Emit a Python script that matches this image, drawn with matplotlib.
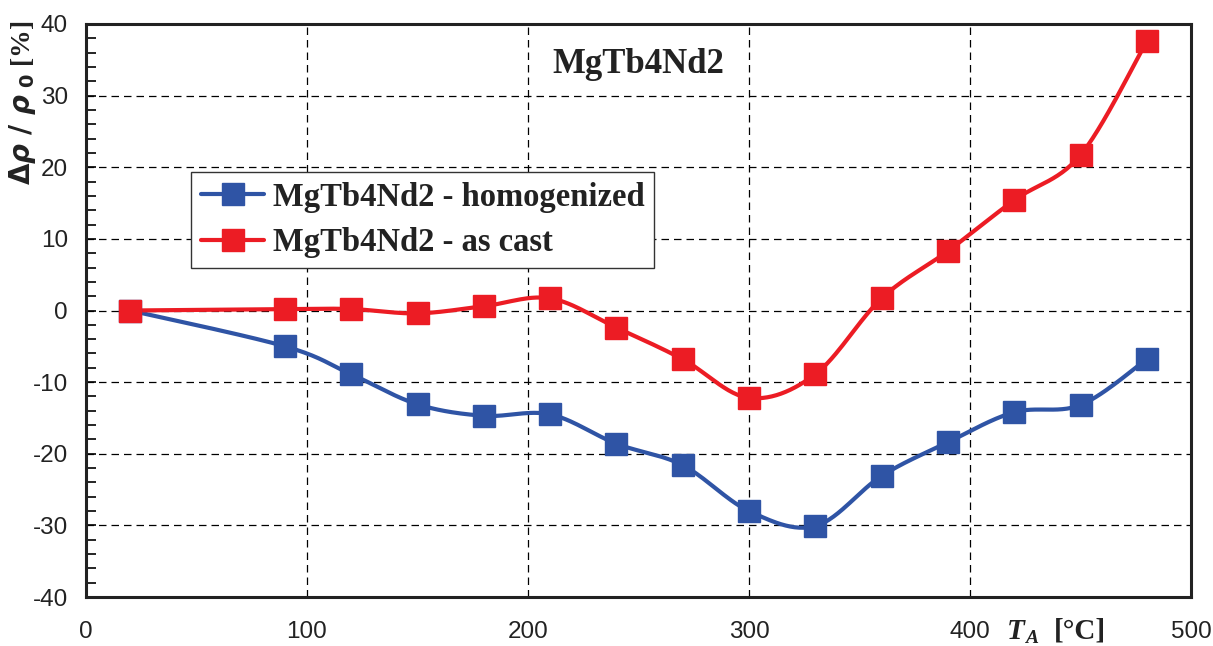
import numpy as np
import matplotlib
matplotlib.use("Agg")
import matplotlib.pyplot as plt
from matplotlib.ticker import MultipleLocator

# Annealing temperature [°C] and relative resistivity change [%]
temps = [20, 90, 120, 150, 180, 210, 240, 270, 300, 330, 360, 390, 420, 450, 480]
homogenized = [0.0, -5.0, -8.9, -13.1, -14.7, -14.5, -18.6, -21.6, -28.0, -30.1,
               -23.1, -18.4, -14.2, -13.2, -6.8]
as_cast = [0.0, 0.2, 0.2, -0.4, 0.6, 1.7, -2.4, -6.8, -12.2, -8.9,
           1.7, 8.3, 15.4, 21.7, 37.6]

labels = ["MgTb4Nd2 - homogenized", "MgTb4Nd2 - as cast"]
title = "MgTb4Nd2"
xticks = [0, 100, 200, 300, 400, 500]
yticks = [-40, -30, -20, -10, 0, 10, 20, 30, 40]

BLUE = "#2F54A5"
RED = "#EC1C24"
INK = "#222222"

plt.rcParams["axes.unicode_minus"] = False
plt.rcParams["mathtext.fontset"] = "custom"
plt.rcParams["mathtext.rm"] = "DejaVu Sans:bold"
plt.rcParams["mathtext.it"] = "DejaVu Sans:bold:italic"
plt.rcParams["mathtext.bf"] = "DejaVu Sans:bold"


def smooth(x, y, n=30):
    """Catmull-Rom style Bezier smoothing through the points."""
    p = np.column_stack([x, y]).astype(float)
    ext = np.vstack([p[0], p, p[-1]])
    out = []
    t = np.linspace(0, 1, n)[:, None]
    for i in range(1, len(ext) - 2):
        p0, p1, p2, p3 = ext[i - 1], ext[i], ext[i + 1], ext[i + 2]
        c1 = p1 + (p2 - p0) / 6.0
        c2 = p2 - (p3 - p1) / 6.0
        seg = ((1 - t) ** 3) * p1 + 3 * ((1 - t) ** 2) * t * c1 + 3 * (1 - t) * t ** 2 * c2 + t ** 3 * p2
        out.append(seg if i == 1 else seg[1:])
    s = np.vstack(out)
    return s[:, 0], s[:, 1]


W, H = 1213, 646
fig = plt.figure(figsize=(W / 100, H / 100), dpi=100)
ax = fig.add_axes([86 / W, 49 / H, (1191 - 86) / W, (597 - 24) / H])

handles = []
for vals, col, lab in [(homogenized, BLUE, labels[0]), (as_cast, RED, labels[1])]:
    sx, sy = smooth(temps, vals)
    ax.plot(sx, sy, color=col, lw=3, solid_capstyle="round", zorder=3)
    ax.plot(temps, vals, ls="none", marker="s", ms=16, mfc=col, mec=col, zorder=4)
    h, = ax.plot([], [], color=col, lw=3, marker="s", ms=16, mfc=col, mec=col,
                 solid_capstyle="round")
    handles.append(h)

ax.set_xlim(0, 500)
ax.set_ylim(-40, 40)
ax.set_xticks(xticks)
ax.set_yticks(yticks)
ax.yaxis.set_minor_locator(MultipleLocator(2))
ax.tick_params(axis="y", which="both", direction="in", length=7, width=1.2,
               labelsize=17.5, pad=13)
ax.tick_params(axis="x", which="both", length=0, labelsize=17.5, pad=17)
for lab in ax.get_xticklabels() + ax.get_yticklabels():
    lab.set_fontfamily("Liberation Sans")
    lab.set_color(INK)

ax.grid(True, which="major", color="black", ls=(0, (6, 4)), lw=0.9)
for sp in ax.spines.values():
    sp.set_linewidth(2.2)
    sp.set_color(INK)

ax.text(0.5, 0.93, title, transform=ax.transAxes, ha="center", va="center",
        fontfamily="Liberation Serif", fontweight="bold", fontsize=25, color=INK)

leg = ax.legend(handles, labels, loc="upper left",
                bbox_to_anchor=((191 - 86) / 1105, (597 - 172) / 573),
                prop={"family": "Liberation Serif", "weight": "bold", "size": 23.5},
                frameon=True, fancybox=False, edgecolor="#333333", framealpha=1,
                handlelength=1.95, handletextpad=0.25, borderpad=0.3, labelspacing=0.45,
                borderaxespad=0)
leg.get_frame().set_linewidth(1.0)
for t in leg.get_texts():
    t.set_color(INK)

# y-axis label
fig.text(23 / W, 1 - 103 / H, r"$\Delta\rho\ /\ \rho_{\ 0}$ [%]", rotation=90,
         ha="center", va="center", fontfamily="Liberation Serif", fontweight="bold",
         fontsize=20, color=INK)

# x-axis label: T_A [°C]
fig.text(1007 / W, 1 - 639 / H, "T", ha="left", va="baseline", fontfamily="Liberation Serif",
         fontweight="bold", fontstyle="italic", fontsize=21, color=INK)
fig.text(1025 / W, 1 - 643 / H, "A", ha="left", va="baseline", fontfamily="Liberation Serif",
         fontweight="bold", fontstyle="italic", fontsize=14, color=INK)
fig.text(1054 / W, 1 - 639 / H, "[°C]", ha="left", va="baseline", fontfamily="Liberation Serif",
         fontweight="bold", fontsize=21, color=INK)

fig.savefig("out.png", dpi=100)
